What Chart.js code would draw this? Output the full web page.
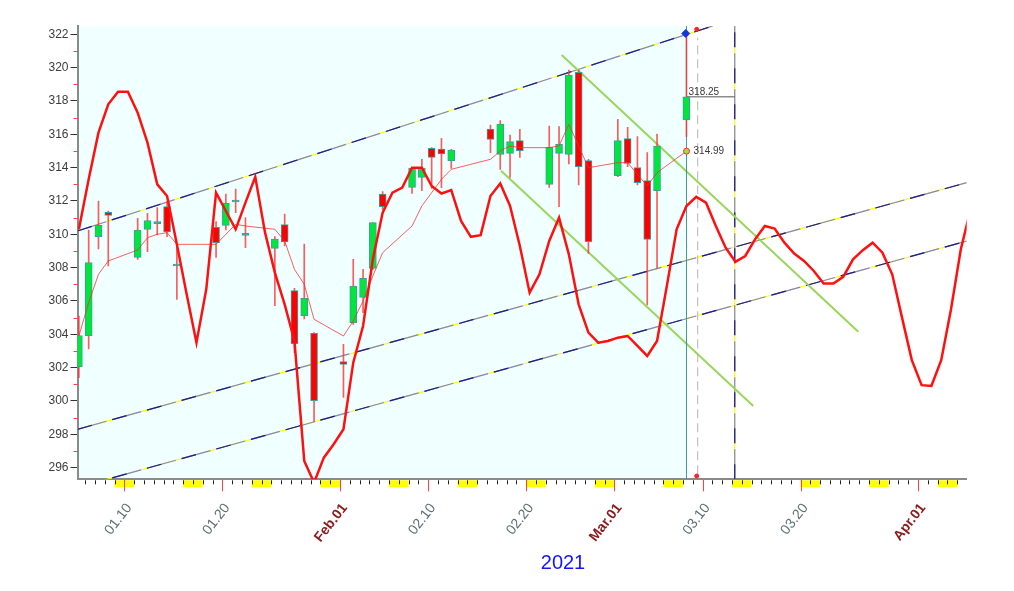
<!DOCTYPE html>
<html lang="en">
<head>
<meta charset="UTF-8">
<title>Daily candles 2021</title>
<script src="https://cdn.jsdelivr.net/npm/chart.js"></script>
<style>
  html, body { margin: 0; padding: 0; background: #fff; }
</style>
</head>
<body>
<canvas id="chart" width="1014" height="591"></canvas>
<script>
// trading days, as day of year 2021 (Jan 1 = 1)
const tradeDays = [5,6,7,8,11,12,13,14,15,19,20,21,22,25,26,27,28,29,
                   32,33,34,35,36,39,40,41,42,43,47,48,49,50,53,54,55,56,57,
                   60,61,62,63,64,67];
const open  = [302.06,303.92,309.86,311.32,308.62,310.30,310.70,311.66,308.16,310.42,310.54,312.00,310.00,309.16,310.58,306.62,305.12,304.06,
               302.36,304.70,306.22,307.96,312.42,312.82,313.42,315.16,315.12,314.42,316.32,314.80,314.86,315.62,313.00,314.86,314.80,319.72,314.42,
               313.52,315.74,314.00,313.22,312.62,316.86];
const close = [303.92,308.30,310.54,311.14,310.26,310.82,310.70,310.14,308.16,309.50,311.86,312.00,310.00,309.72,309.54,303.44,306.16,300.02,
               302.20,306.90,307.36,310.70,311.66,313.96,313.96,314.62,314.82,315.06,315.70,316.62,315.56,315.02,315.22,315.40,319.56,314.06,309.56,
               315.62,314.26,313.10,309.70,315.30,318.25];
const high  = [305.1,310.26,312.0,311.4,310.96,311.26,311.6,311.96,309.3,310.76,312.42,312.72,311.0,309.86,311.22,306.76,309.42,304.1,
               303.4,308.5,307.9,310.7,312.56,313.96,314.5,315.2,315.76,315.1,316.56,316.82,315.96,316.3,316.5,316.46,319.86,319.86,314.5,
               316.9,316.42,315.86,314.9,316.02,322.2];
const low   = [301.4,303.12,309.12,308.1,308.5,308.96,309.96,309.86,306.1,308.62,310.26,311.3,309.2,305.72,309.3,302.9,304.92,298.76,
               300.22,304.6,305.3,307.9,311.5,312.46,312.62,312.76,312.8,313.96,314.9,313.9,313.42,314.62,312.82,311.66,314.22,312.96,308.86,
               313.46,314.06,312.96,305.76,307.96,315.86];
// thin moving average, one value per trading day
const avgLine = [303.9,305.9,307.6,308.4,309.06,309.8,310.0,310.1,309.4,309.4,310.0,310.6,310.5,310.3,309.6,307.9,307.0,304.9,
                 303.9,304.8,306.0,307.5,308.9,310.5,311.7,312.5,313.3,313.9,314.5,315.0,315.3,315.2,315.2,315.3,316.6,315.3,314.0,
                 314.3,314.3,313.6,312.9,313.7,314.99];
// thick cycle curve, one value per calendar day from day 5 to day 96
const cycleStart = 5;
const cycleValues = [310.3,313.3,316.1,317.8,318.55,318.55,317.3,315.5,313.0,312.3,309.4,306.4,303.5,306.7,312.5,311.4,310.3,311.9,313.45,
                     310.1,307.7,305.8,303.6,296.4,295.1,296.6,297.4,298.3,302.3,304.5,308.5,311.3,312.5,312.8,314.0,314.0,312.9,312.45,
                     312.65,310.8,309.85,309.95,312.3,313.05,311.7,309.3,306.5,307.6,309.6,311.0,308.8,305.8,304.1,303.5,303.6,303.8,
                     303.9,303.3,302.7,303.6,306.9,310.3,311.7,312.25,311.9,310.5,309.2,308.35,308.7,309.7,310.5,310.35,309.5,308.85,
                     308.4,307.8,307.05,307.05,307.45,308.5,309.05,309.5,308.9,307.6,305.0,302.45,300.95,300.9,302.45,305.5,309.1,311.5];

// channel lines (day, value)
const upperChannel = [[5.22, 310.2], [70.04, 322.5]];
const midChannel   = [[5.22, 298.3], [95.96, 313.1]];
const lowChannel   = [[5.22, 294.81], [95.96, 309.6]];
const greenUpper   = [[54.63, 320.76], [84.9, 304.16]];
const greenLower   = [[48.44, 313.82], [74.18, 299.7]];

const lastDay = 67.37, nextDay = 68.51, cutDay = 72.29;
const lastClose = 318.25, lastAvg = 314.99;

// x axis
const labelDays  = [10, 20, 32, 41, 51, 60, 69, 79, 91];
const labelTexts = ['01.10','01.20','Feb.01','02.10','02.20','Mar.01','03.10','03.20','Apr.01'];
const monthStart = [false,false,true,false,false,true,false,false,true];
const saturdays  = [9,16,23,30,37,44,51,58,65,72,79,86,93];
const yTicks = [296,298,300,302,304,306,308,310,312,314,316,318,320,322];

const OFF = 0.36;          // candle sits a bit into its day slot
const LABEL_NUDGE = 0.5;
const FONT = "'Liberation Sans', Arial, sans-serif";

const pts = arr => arr.map(p => ({x: p[0], y: p[1]}));

function channel(points) {
  const d = pts(points);
  return [
    {type:'line', data:d, borderColor:'#ffff00', borderWidth:1.2, pointRadius:0, order:32},
    {type:'line', data:d, borderColor:'#8484cc', borderWidth:1.2, borderDash:[30,6], pointRadius:0, order:31},
    {type:'line', data:d, borderColor:'#1c1c8e', borderWidth:1.2, borderDash:[15,21], pointRadius:0, order:30}
  ];
}

const wicks = tradeDays.map((d, i) => ({x: d + OFF, y: [low[i], high[i]]}));
const bodies = tradeDays.map((d, i) => {
  const a = Math.min(open[i], close[i]), b = Math.max(open[i], close[i]);
  return {x: d + OFF, y: b - a < 0.1 ? [a - 0.06, b + 0.06] : [a, b]};
});
const bodyColors = tradeDays.map((d, i) => close[i] > open[i] ? '#00e63c' : (close[i] < open[i] ? '#ff0000' : '#3d9e9e'));

const overlay = {
  id: 'overlay',
  beforeDraw(chart) {
    const {ctx, chartArea: a, scales: {x}} = chart;
    ctx.save();
    ctx.fillStyle = '#f0ffff';
    ctx.fillRect(a.left, a.top, x.getPixelForValue(lastDay) - a.left, a.bottom - a.top);
    ctx.restore();
  },
  afterDraw(chart) {
    const {ctx, chartArea: a, scales: {x, y}} = chart;
    const base = a.bottom;
    ctx.save();
    // weekend blocks
    ctx.fillStyle = '#ffff00';
    saturdays.forEach(d => {
      const x0 = x.getPixelForValue(d), x1 = x.getPixelForValue(d + 2);
      ctx.fillRect(x0, base + 1, x1 - x0, 7);
    });
    // day ticks
    ctx.lineWidth = 1;
    ctx.strokeStyle = '#202020';
    ctx.beginPath();
    for (let d = Math.ceil(x.min); d <= x.max; d++) {
      const px = Math.round(x.getPixelForValue(d)) + 0.5;
      ctx.moveTo(px, base + 1); ctx.lineTo(px, base + 5);
    }
    ctx.stroke();
    ctx.strokeStyle = '#ff4040';
    ctx.beginPath();
    labelDays.forEach(d => {
      const px = Math.round(x.getPixelForValue(d)) + 0.5;
      ctx.moveTo(px, base + 1); ctx.lineTo(px, base + 12);
    });
    // minor y ticks
    for (let v = 297; v <= 321; v += 2) {
      const py = Math.round(y.getPixelForValue(v)) + 0.5;
      ctx.moveTo(a.left - 4, py); ctx.lineTo(a.left, py);
    }
    ctx.stroke();
    // value labels
    ctx.fillStyle = '#3a3a3a';
    ctx.font = '10px ' + FONT;
    ctx.textBaseline = 'alphabetic';
    ctx.fillText(lastClose.toFixed(2), x.getPixelForValue(lastDay) + 2, y.getPixelForValue(lastClose) - 2);
    ctx.textBaseline = 'middle';
    ctx.fillText(lastAvg.toFixed(2), x.getPixelForValue(lastDay) + 7, y.getPixelForValue(lastAvg));
    // year
    ctx.fillStyle = '#1414ff';
    ctx.font = '20px ' + FONT;
    ctx.textAlign = 'center';
    ctx.fillText('2021', 563, 563);
    ctx.restore();
  }
};

new Chart(document.getElementById('chart'), {
  type: 'line',
  data: {
    datasets: [
      ...channel(upperChannel),
      ...channel(midChannel),
      ...channel(lowChannel),
      ...channel([[cutDay, 295.3], [cutDay, 322.5]]),
      {type:'line', data: pts(greenUpper), borderColor:'#9ad55c', borderWidth:2, pointRadius:0, order:25},
      {type:'line', data: pts(greenLower), borderColor:'#9ad55c', borderWidth:2, pointRadius:0, order:25},
      {type:'line', data: pts([[lastDay, 295.3], [lastDay, 322.5]]), borderColor:'#3a9a94', borderWidth:1, pointRadius:0, order:22},
      {type:'line', data: pts([[nextDay, 295.6], [nextDay, 321.8]]), borderColor:'#b4b4b4', borderWidth:1, borderDash:[9,5], pointRadius:0, order:22},
      {type:'line', data: pts([[lastDay, lastClose], [cutDay, lastClose]]), borderColor:'#555555', borderWidth:1, pointRadius:0, order:22},
      {type:'bar', data: wicks, backgroundColor:'rgba(255,50,50,0.8)', borderWidth:0, barThickness:1, grouped:false, order:20},
      {type:'bar', data: bodies, backgroundColor: bodyColors, borderColor:'#3d9e9e', borderWidth:1, borderSkipped:false,
       barThickness:7, grouped:false, order:15},
      {type:'line', data: tradeDays.map((d, i) => ({x: d + OFF, y: avgLine[i]})),
       borderColor:'rgba(255,40,40,0.75)', borderWidth:1, pointRadius:0, order:10},
      {type:'line', data: cycleValues.map((v, i) => ({x: cycleStart + i + OFF, y: v})),
       borderColor:'#ff1010', borderWidth:2.5, pointRadius:0, order:5},
      {type:'line', showLine:false, data: pts([[67.29, 322.05]]), pointStyle:'rectRot', pointRadius:4,
       backgroundColor:'#1535d8', borderColor:'#1535d8', order:1},
      {type:'line', showLine:false, data: pts([[68.41, 322.3], [68.41, 295.5]]), pointRadius:2,
       backgroundColor:'#ff2020', borderColor:'#ff2020', order:1},
      {type:'line', showLine:false, data: pts([[lastDay, lastAvg]]), pointRadius:3,
       backgroundColor:'#a8d840', borderColor:'#ff3030', borderWidth:1, order:1}
    ]
  },
  options: {
    responsive: false,
    animation: false,
    layout: { padding: { top: 26, right: 47.3, left: 0, bottom: 0 } },
    plugins: { legend: { display: false }, tooltip: { enabled: false } },
    scales: {
      x: {
        type: 'linear', min: 5.22, max: 95.96, offset: false,
        grid: { display: false, drawTicks: false },
        border: { display: true, color: '#8a8a8a', width: 2 },
        afterBuildTicks: s => { s.ticks = labelDays.map(d => ({value: d + LABEL_NUDGE})); },
        afterFit: s => { s.height = 111.7; },
        ticks: {
          autoSkip: false, minRotation: 52, maxRotation: 52, padding: 21,
          callback: (v, i) => labelTexts[i],
          color: c => monthStart[c.index] ? '#8b1a1a' : '#5f6e75',
          font: c => ({family: FONT, size: 14, weight: monthStart[c.index] ? 'bold' : 'normal'})
        }
      },
      y: {
        type: 'linear', min: 295.3, max: 322.5,
        grid: { drawOnChartArea: false, drawTicks: true, tickLength: 7, color: '#333333' },
        border: { display: true, color: '#8a8a8a', width: 2 },
        afterBuildTicks: s => { s.ticks = yTicks.map(v => ({value: v})); },
        afterFit: s => { s.width = 77.5; },
        ticks: { padding: 2, color: '#3c3c3c', font: { family: FONT, size: 12 } }
      }
    }
  },
  plugins: [overlay]
});
</script>
</body>
</html>
